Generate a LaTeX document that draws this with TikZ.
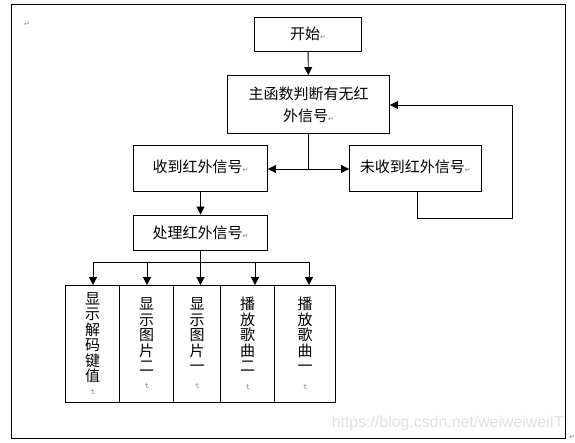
\documentclass[tikz,border=0pt]{standalone}
\usepackage{fontspec}
\setmainfont{Liberation Sans}
\newfontfamily\cjk{Noto Sans CJK SC}
\newfontfamily\symf{DejaVu Sans}
\usetikzlibrary{arrows.meta}
\newcommand{\pmark}{{\symf\fontsize{7}{7}\selectfont\textcolor{gray}{↵}}}
\newcommand{\pmarkv}{\rotatebox[origin=c]{-90}{\pmark}}
\begin{document}
\begin{tikzpicture}[x=1pt,y=-1pt,
  box/.style={draw, line width=0.9pt, inner sep=0pt, align=center,
    font=\cjk\fontsize{15}{22}\selectfont},
  vbox/.style={draw, line width=0.9pt, inner sep=0pt, align=center,
    minimum height=116.5pt, font=\cjk\fontsize{15}{15.5}\selectfont},
  arr/.style={-{Triangle[length=8pt,width=8pt]}, line width=0.9pt},
  ln/.style={line width=0.9pt},
  pmk/.style={inner sep=0pt}
]
\useasboundingbox (0,0) rectangle (575,443);
% outer frame
\draw[line width=0.9pt] (11.5,4.5) rectangle (565,438);
\node[pmk] (m0) at (27,24) {\pmark};
\node[pmk] (m9) at (572,437) {\pmark};
\node[anchor=east, inner sep=0pt, text=gray!24] (wm) at (564,423)
  {\resizebox{232pt}{!}{https://blog.csdn.net/weiweiweiIT}};

% boxes
\node[box, minimum width=107pt, minimum height=34.5pt] (start) at (308,34.25) {开始\pmark};
\node[box, minimum width=162pt, minimum height=58pt] (main) at (308.5,104.5)
  {主函数判断有无红\\外信号\pmark};
\node[box, minimum width=134pt, minimum height=46.5pt] (recv) at (200.5,168.25)
  {\raisebox{5pt}{收到红外信号\pmark}};
\node[box, minimum width=131.5pt, minimum height=46.5pt] (norecv) at (415.25,168.25)
  {\raisebox{5pt}{未收到红外信号\pmark}};
\node[box, minimum width=134pt, minimum height=35.5pt] (proc) at (200.5,232.75)
  {处理红外信号\pmark};

\node[vbox, minimum width=54pt] (b1) at (92.5,343.75) {显\\示\\解\\码\\键\\值\\[-3pt]\pmarkv};
\node[vbox, minimum width=54pt] (b2) at (146.5,343.75) {显\\示\\图\\片\\二\\[2pt]\pmarkv};
\node[vbox, minimum width=47pt] (b3) at (197,343.75) {显\\示\\图\\片\\一\\[2pt]\pmarkv};
\node[vbox, minimum width=54pt] (b4) at (247.5,343.75) {播\\放\\歌\\曲\\二\\[2pt]\pmarkv};
\node[vbox, minimum width=61pt] (b5) at (305,343.75) {播\\放\\歌\\曲\\一\\[2pt]\pmarkv};

% connectors
\draw[arr] (start) -- (main);
\coordinate (j) at (308.5,169);
\draw[ln] (main.south) -- (j);
\draw[arr] (j) -- (recv.east |- j);
\draw[arr] (j) -- (norecv.west |- j);
\coordinate (l1) at (417,218.5);
\coordinate (l2) at (512,218.5);
\coordinate (l3) at (512,105);
\draw[arr] (norecv.south -| l1) -- (l1) -- (l2) -- (l3) -- (main.east |- l3);
\draw[arr] (recv) -- (proc);
\coordinate (bus) at (200.5,262);
\draw[ln] (proc.south) -- (bus);
\coordinate (c1) at (93,262);
\coordinate (c2) at (147,262);
\coordinate (c3) at (200.5,262);
\coordinate (c4) at (255,262);
\coordinate (c5) at (309,262);
\draw[ln] (c1) -- (c5);
\draw[arr] (c1) -- (c1 |- b1.north);
\draw[arr] (c2) -- (c2 |- b2.north);
\draw[arr] (c3) -- (c3 |- b3.north);
\draw[arr] (c4) -- (c4 |- b4.north);
\draw[arr] (c5) -- (c5 |- b5.north);
\end{tikzpicture}
\end{document}
